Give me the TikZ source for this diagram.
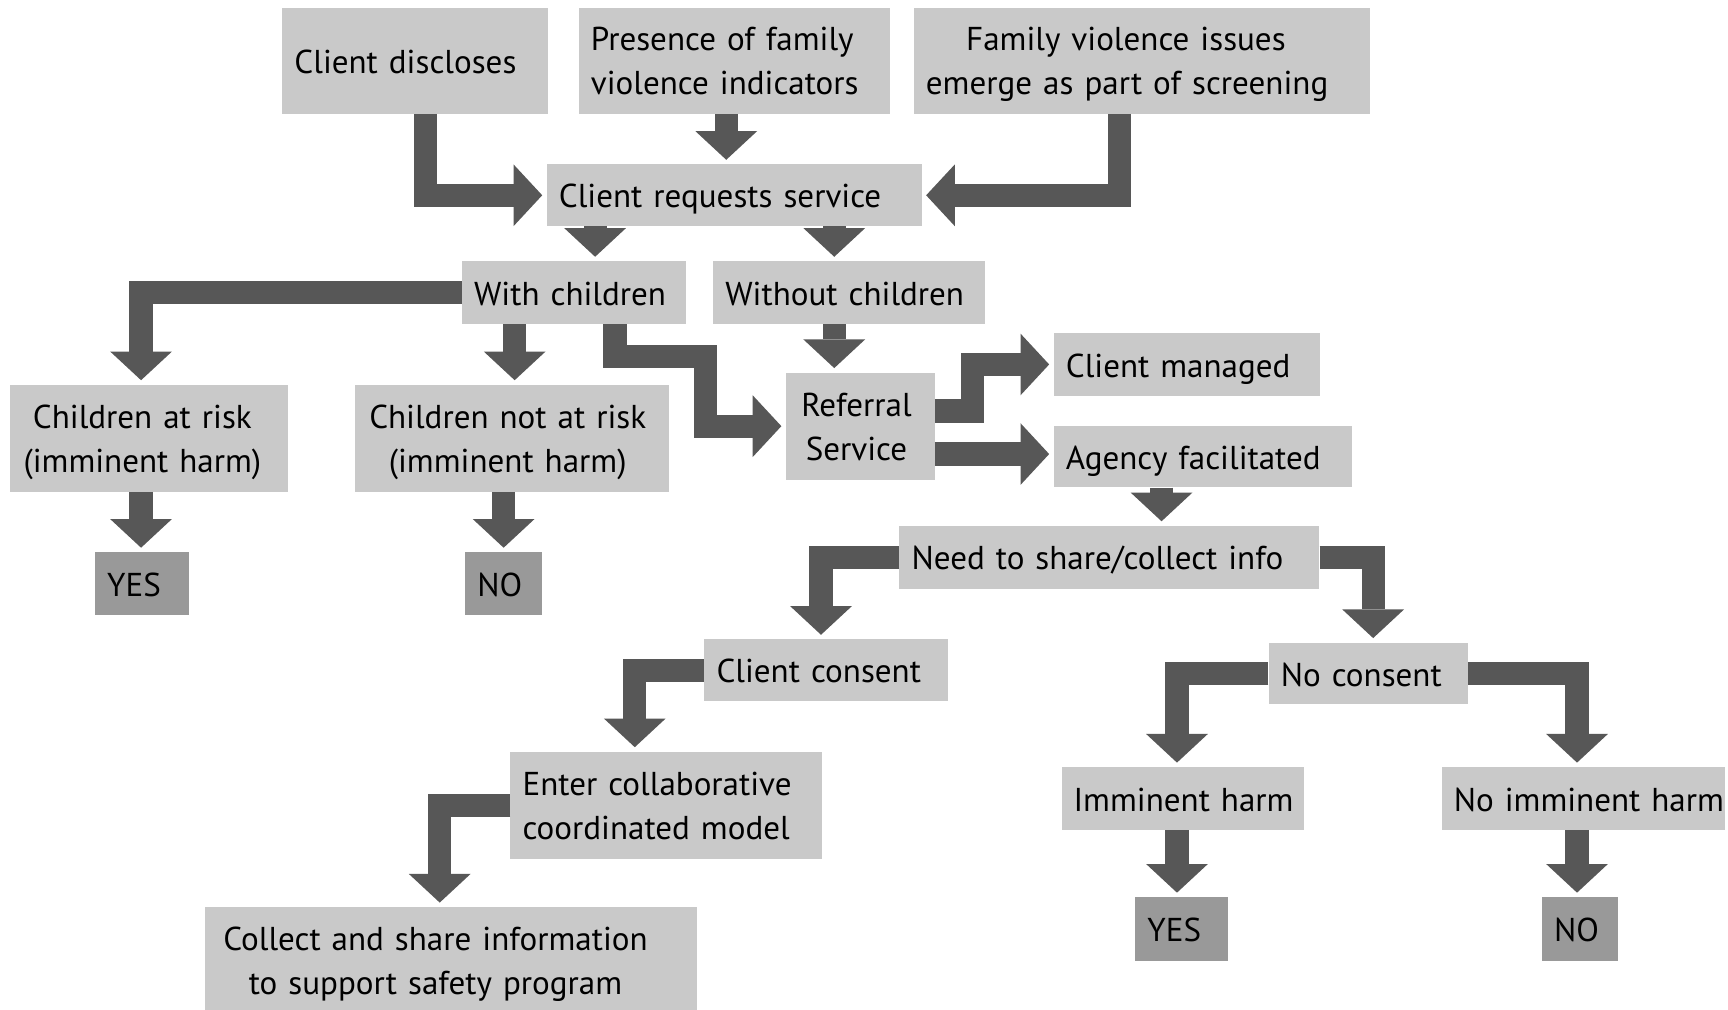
\documentclass[tikz,border=0pt]{standalone}
\usepackage{fontspec}
\setmainfont{PT Sans}
\usetikzlibrary{arrows.meta,calc}
\definecolor{boxgray}{HTML}{C9C9C9}
\definecolor{ansgray}{HTML}{999999}
\definecolor{arrowgray}{HTML}{575757}
\newcommand{\padR}[1]{\rule{#1}{0pt}}
\begin{document}
\begin{tikzpicture}[x=1pt,y=-1pt,
  box/.style={rectangle, fill=boxgray, anchor=north west, inner xsep=11pt, inner ysep=0pt,
    align=left, font=\fontsize{30}{40}\selectfont, text height=23pt, text depth=0pt},
  two/.style={text depth=41pt},
  ans/.style={box, fill=ansgray},
  flow/.style={draw=arrowgray, line width=21pt, line join=miter, shorten >=4pt,
    -{Triangle[width=56pt,length=26pt,line width=0pt]}}
]
\fill[white] (0,0) rectangle (1568,915.6);
\useasboundingbox (0,0) rectangle (1568,915.6);

% boxes
\node[box, text width=219pt, minimum height=96pt] (cd) at (256,7) {\mbox{Client discloses}};
\node[box, two, text width=260pt, minimum height=96pt] (pf) at (525,7) {\mbox{Presence of family}\\\mbox{violence indicators}};
\node[box, two, align=center, text width=392pt, minimum height=96pt] (fv) at (829,7) {\mbox{Family violence issues}\padR{29pt}\\\mbox{emerge as part of screening}\padR{29pt}};
\node[box, text width=318pt, minimum height=56pt] (cr) at (496,149) {\mbox{Client requests service}};
\node[box, text width=181pt, minimum height=57pt] (wc) at (419,237) {\mbox{With children}};
\node[box, text width=225pt, minimum height=57pt] (woc) at (647,237) {\mbox{Without children}};
\node[box, two, align=center, text width=230pt, minimum height=97pt] (car) at (9,349) {\mbox{Children at risk}\padR{12pt}\\\mbox{(imminent harm)}\padR{12pt}};
\node[box, two, align=center, text width=263pt, minimum height=97pt] (cnr) at (322,349) {\mbox{Children not at risk}\padR{8pt}\\\mbox{(imminent harm)}\padR{8pt}};
\node[ans, text width=63pt, minimum height=57pt] (yes1) at (86,501) {YES};
\node[ans, text width=48pt, minimum height=57pt] (no1) at (422,501) {NO};
\node[box, two, align=center, text width=113pt, minimum height=97pt] (rs) at (713,338) {Referral\padR{7pt}\\Service\padR{7pt}};
\node[box, text width=220pt, minimum height=57pt] (cm) at (956,302) {\mbox{Client managed}};
\node[box, text width=249pt, minimum height=56pt] (af) at (956,386) {\mbox{Agency facilitated}};
\node[box, text width=359pt, minimum height=57pt] (ns) at (816,477) {\mbox{Need to share/collect info}};
\node[box, text width=199pt, minimum height=56pt] (cc) at (639,580) {\mbox{Client consent}};
\node[box, text width=159pt, minimum height=56pt] (nc) at (1151,583) {\mbox{No consent}};
\node[box, two, text width=261pt, minimum height=97pt] (ecm) at (463,682) {\mbox{Enter collaborative}\\\mbox{coordinated model}};
\node[box, two, align=center, text width=424pt, minimum height=97pt] (cs) at (186,823) {\mbox{Collect and share information}\padR{28pt}\\\mbox{to support safety program}\padR{28pt}};
\node[box, align=center, text width=198pt, minimum height=57pt] (ih) at (963,696) {\mbox{Imminent harm}};
\node[box, align=center, text width=235pt, minimum height=57pt] (nih) at (1308,696) {\mbox{No imminent harm}};
\node[ans, text width=62pt, minimum height=58pt] (yes2) at (1030,814) {YES};
\node[ans, text width=47pt, minimum height=58pt] (no2) at (1399,814) {NO};

% connector anchors
\coordinate (a1) at ($(cd.south west)+(130,0)$);
\coordinate (a2) at ($(pf.south west)+(134,0)$);
\coordinate (a3) at ($(fv.south west)+(187,0)$);
\coordinate (a4) at ($(cr.south west)+(44,0)$);
\coordinate (a5) at ($(cr.south west)+(261,0)$);
\coordinate (a6) at ($(car.north west)+(119,0)$);
\coordinate (a7) at ($(wc.south west)+(48,0)$);
\coordinate (a8) at ($(wc.south west)+(139,0)$);
\coordinate (a8b) at ($(rs.west)+(-73,0)$);
\coordinate (a9) at ($(woc.south west)+(110,0)$);
\coordinate (a10) at ($(rs.north east)+(0,35)$);
\coordinate (a11) at ($(rs.north east)+(0,74)$);
\coordinate (a12) at ($(af.south west)+(98,0)$);
\coordinate (a13) at ($(cc.north west)+(106,0)$);
\coordinate (a14) at ($(nc.north west)+(95,0)$);
\coordinate (a15) at ($(ecm.north west)+(113,0)$);
\coordinate (a16) at ($(cs.north west)+(213,0)$);
\coordinate (a17) at ($(ih.north west)+(105,0)$);
\coordinate (a18) at ($(nih.north west)+(123,0)$);
\coordinate (a19) at ($(ih.south west)+(105,0)$);
\coordinate (a20) at ($(nih.south west)+(123,0)$);
\coordinate (a21) at ($(car.south west)+(119,0)$);
\coordinate (a22) at ($(cnr.south west)+(135,0)$);

% connectors
\draw[flow] (a1) |- (cr.west);
\draw[flow] (a2) -- (a2 |- cr.north);
\draw[flow] (a3) |- (cr.east);
\draw[flow] (a4) -- (a4 |- wc.north);
\draw[flow] (a5) -- (a5 |- woc.north);
\draw[flow] (wc.west) -| (a6);
\draw[flow] (a7) -- (a7 |- cnr.north);
\draw[flow] (a8) -- ++(0,29) -| (a8b) -- (rs.west);
\draw[flow] (a9) -- (a9 |- rs.north);
\draw[flow] (a10) -- ++(34,0) |- (cm.west);
\draw[flow] (a11) -- (a11 -| af.west);
\draw[flow] (a12) -- (a12 |- ns.north);
\draw[flow] (ns.west) -| (a13);
\draw[flow] (ns.east) -| (a14);
\draw[flow] (cc.west) -| (a15);
\draw[flow] (ecm.west) -| (a16);
\draw[flow] (nc.west) -| (a17);
\draw[flow] (nc.east) -| (a18);
\draw[flow] (a19) -- (a19 |- yes2.north);
\draw[flow] (a20) -- (a20 |- no2.north);
\draw[flow] (a21) -- (a21 |- yes1.north);
\draw[flow] (a22) -- (a22 |- no1.north);
\end{tikzpicture}
\end{document}
